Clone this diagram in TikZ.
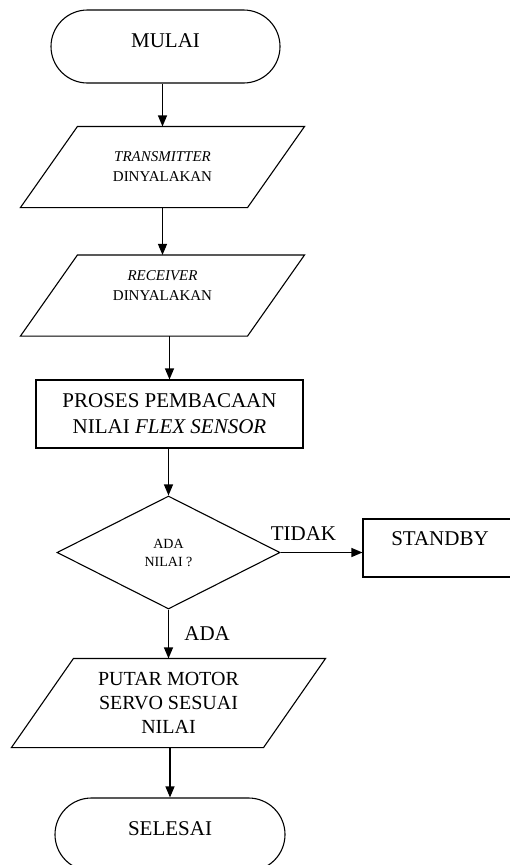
\documentclass[tikz,border=0pt]{standalone}
\usepackage{fontspec}
\setmainfont{Liberation Serif}
\usetikzlibrary{shapes.geometric,shapes.misc,arrows.meta}

\tikzset{
	terminal/.style={draw, rounded rectangle, minimum height=73pt, inner sep=0pt, font=\fontsize{21}{26}\selectfont},
	slant/.style={rectangle, inner sep=0pt, align=center},
	process/.style={draw, rectangle, inner sep=0pt, align=center, font=\fontsize{21}{26}\selectfont},
	decision/.style={draw, diamond, inner sep=0pt, align=center, font=\fontsize{14}{18}\selectfont},
	small/.style={font=\fontsize{15}{20}\selectfont},
	big/.style={font=\fontsize{20}{24}\selectfont}
}

\begin{document}
\begin{tikzpicture}[x=1pt, y=-1pt, line width=1.1pt, >={Triangle[length=11pt, width=9pt]}]
		\useasboundingbox (0,0) rectangle (510,865);
		
		\node [terminal, minimum width=229pt, text depth=11pt] (mulai) at (165.5, 46.5) {MULAI};
		
		\node [slant, small, minimum width=226pt, minimum height=80pt] (io1) at (162.5, 167) {\textit{TRANSMITTER}\\DINYALAKAN};
		\draw ([xshift=28.5pt]io1.north west) -- ([xshift=28.5pt]io1.north east) -- ([xshift=-28.5pt]io1.south east) -- ([xshift=-28.5pt]io1.south west) -- cycle;
		
		\node [slant, small, minimum width=226pt, minimum height=80pt, text depth=19pt] (io2) at (162.5, 295.5) {\textit{RECEIVER}\\DINYALAKAN};
		\draw ([xshift=28.5pt]io2.north west) -- ([xshift=28.5pt]io2.north east) -- ([xshift=-28.5pt]io2.south east) -- ([xshift=-28.5pt]io2.south west) -- cycle;
		
		\node [process, minimum width=267pt, minimum height=68pt] (proses) at (169.5, 414) {PROSES PEMBACAAN\\NILAI \textit{FLEX SENSOR}};
		
		\node [decision, minimum width=223pt, minimum height=113pt] (cek) at (168.5, 552.5) {ADA\\NILAI ?};
		
		\node [process, minimum width=154pt, minimum height=58pt, text depth=18pt] (standby) at (440, 548) {STANDBY};
		
		\node [slant, big, minimum width=251pt, minimum height=88pt] (io3) at (168.5, 703) {PUTAR MOTOR\\SERVO SESUAI\\NILAI};
		\draw ([xshift=31pt]io3.north west) -- ([xshift=31pt]io3.north east) -- ([xshift=-31pt]io3.south east) -- ([xshift=-31pt]io3.south west) -- cycle;
		
		\node [terminal, minimum width=230pt, text depth=12pt] (selesai) at (170, 834.5) {SELESAI};
		
		\draw [->] (io1.north |- mulai.south) -- (io1.north);
		\draw [->] (io1.south) -- (io2.north);
		\draw [->] (proses.north |- io2.south) -- (proses.north);
		\draw [->] (cek.north |- proses.south) -- (cek.north);
		
		\draw [->] (cek.east) -- (cek.east -| standby.west) node [above, pos=0.28, yshift=8pt, font=\fontsize{21}{26}\selectfont] (tidak) {TIDAK};
		\draw [->] (cek.south) -- (io3.north) node [right, pos=0.5, xshift=12pt, font=\fontsize{21}{26}\selectfont] (ada) {ADA};
		
		\draw [->] (selesai.north |- io3.south) -- (selesai.north);
		
		\end{tikzpicture}
\end{document}
